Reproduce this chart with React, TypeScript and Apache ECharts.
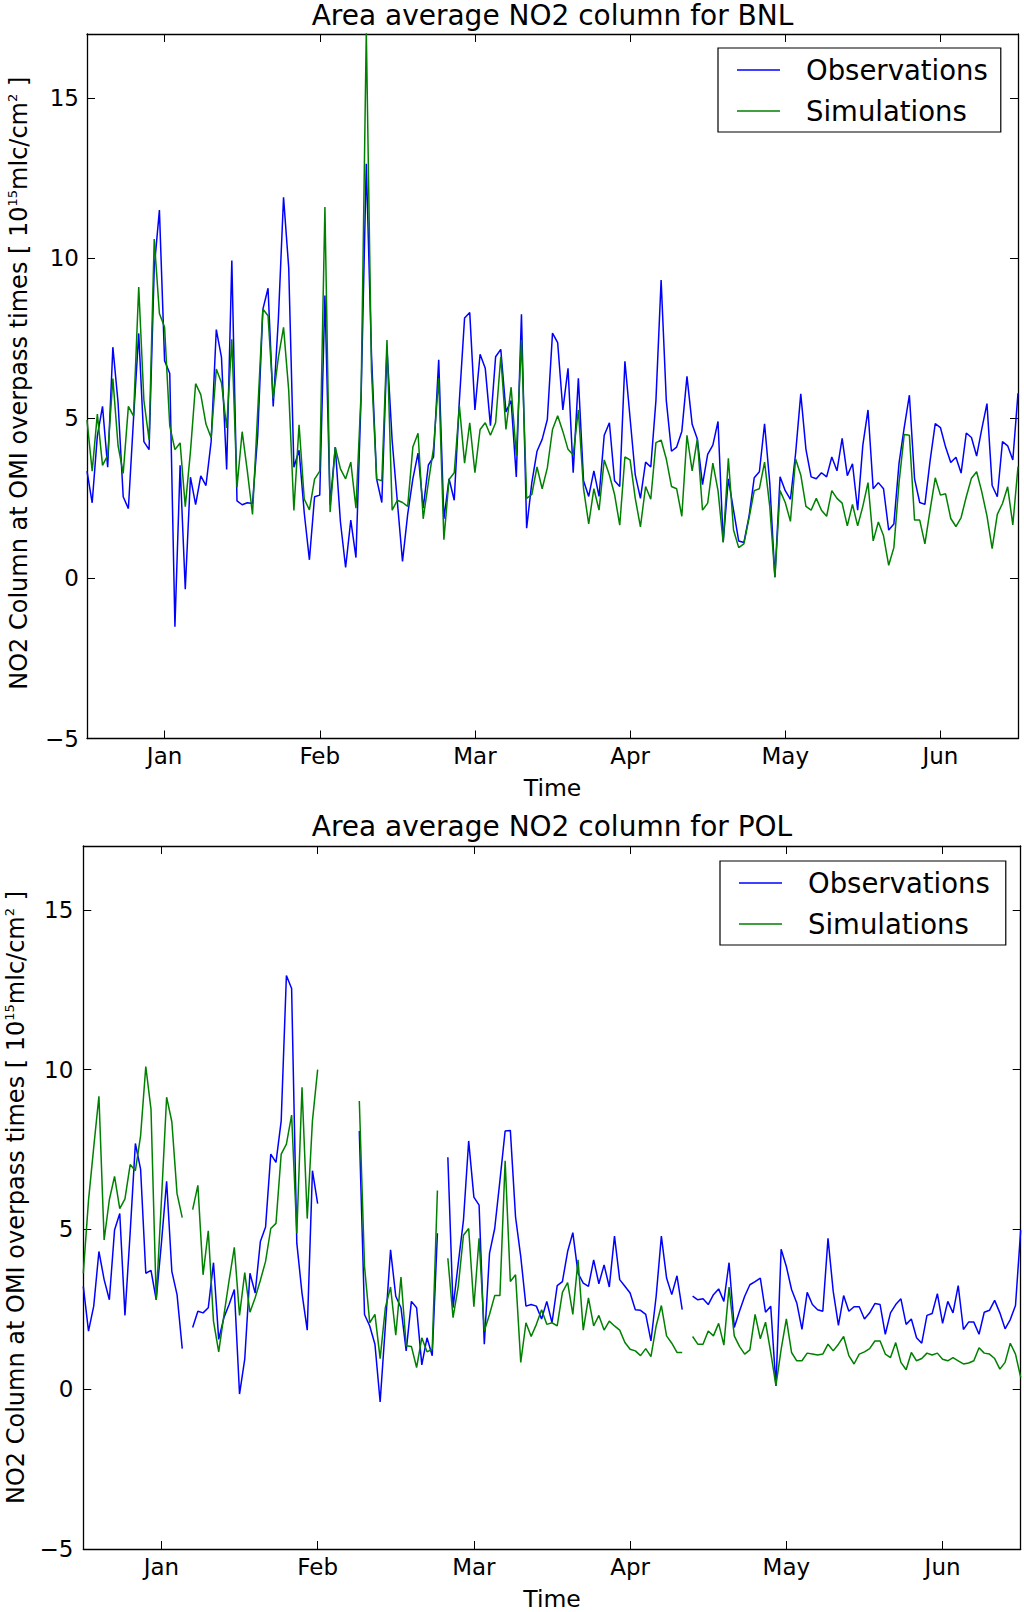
import React, { useEffect, useRef } from "react";
import * as echarts from "echarts";

// x = day offset from 1 January (daily values, mid-December to mid-June)
const START_DAY = -15;
const END_DAY = 165;
const MONTH_TICKS = [0, 30, 60, 90, 120, 150];
const MONTH_LABELS = ["Jan", "Feb", "Mar", "Apr", "May", "Jun"];
const Y_TICKS = [-5, 0, 5, 10, 15];
const Y_MIN = -5;
const Y_MAX = 17;

const SERIES_NAMES = ["Observations", "Simulations"];
const TITLES = ["Area average NO2 column for BNL", "Area average NO2 column for POL"];

// BNL observations (day -15 .. 165)
const bnlObs = [
  3.35, 2.36, 4.45, 5.37, 3.47, 7.22, 5.5, 2.55, 2.18, 5.0,
  7.65, 4.27, 4.02, 9.7, 11.5, 6.8, 6.4, -1.51, 3.53, -0.34,
  3.16, 2.3, 3.2, 2.9, 4.27, 7.77, 6.9, 3.4, 9.93, 2.42,
  2.3, 2.36, 2.34, 4.45, 8.4, 9.06, 5.37, 8.1, 11.9, 9.7,
  3.47, 4.0, 2.05, 0.58, 2.55, 2.6, 8.83, 2.3, 4.1, 1.76,
  0.34, 1.82, 0.65, 5.7, 12.95, 7.0, 3.1, 2.37, 7.17, 4.3,
  2.4, 0.53, 2.0, 3.11, 3.91, 2.19, 3.54, 3.79, 6.83, 1.86,
  3.11, 2.44, 5.57, 8.13, 8.3, 5.26, 7.0, 6.56, 4.77, 6.92,
  7.15, 5.2, 5.55, 3.17, 8.25, 1.57, 2.99, 3.97, 4.34, 4.96,
  7.66, 7.36, 5.26, 6.56, 3.3, 6.25, 3.05, 2.56, 3.36, 2.56,
  4.47, 4.86, 3.05, 2.87, 6.78, 5.0, 3.23, 2.5, 3.63, 3.48,
  5.56, 9.32, 5.56, 3.97, 4.1, 4.59, 6.31, 4.81, 4.35, 2.93,
  3.87, 4.16, 4.9, 1.14, 3.11, 2.13, 1.17, 1.12, 1.94, 3.14,
  3.33, 4.83, 2.99, 0.04, 3.17, 2.74, 2.47, 3.9, 5.76, 4.03,
  3.17, 3.11, 3.3, 3.17, 3.79, 3.36, 4.37, 3.21, 3.58, 2.13,
  4.16, 5.26, 2.8, 2.99, 2.8, 1.51, 1.7, 3.6, 4.71, 5.72,
  3.11, 2.37, 2.31, 3.67, 4.83, 4.71, 4.1, 3.62, 3.78, 3.29,
  4.54, 4.4, 3.82, 4.67, 5.46, 2.9, 2.55, 4.27, 4.14, 3.7,
  5.78,
];

// BNL simulations (day -15 .. 165)
const bnlSim = [
  4.94, 3.35, 5.13, 3.53, 3.84, 6.24, 4.15, 3.28, 5.37, 5.07,
  9.1, 5.56, 4.33, 10.6, 8.27, 7.84, 4.76, 4.02, 4.23, 2.24,
  3.96, 6.08, 5.74, 4.82, 4.39, 6.54, 6.11, 4.7, 7.47, 2.85,
  4.58, 3.35, 2.0, 5.2, 8.41, 8.2, 5.62, 6.9, 7.84, 5.87,
  2.12, 4.8, 2.48, 2.14, 3.1, 3.35, 11.6, 2.07, 4.1, 3.42,
  3.11, 3.63, 2.19, 5.8, 17.1, 6.5, 3.1, 3.05, 7.44, 2.13,
  2.44, 2.37, 2.25, 4.1, 4.53, 1.86, 2.99, 4.07, 6.25, 1.21,
  3.09, 3.3, 5.39, 3.6, 4.86, 3.3, 4.65, 4.86, 4.47, 4.86,
  6.92, 4.65, 5.97, 3.85, 7.44, 2.5, 2.62, 3.48, 2.8, 3.45,
  4.65, 5.08, 4.59, 4.03, 3.85, 5.26, 2.8, 1.7, 2.8, 2.13,
  3.7, 3.23, 2.62, 1.66, 3.79, 3.7, 2.5, 1.61, 2.87, 2.47,
  4.24, 4.32, 3.73, 2.87, 2.8, 1.94, 4.47, 3.36, 4.35, 2.13,
  2.35, 3.6, 2.74, 1.12, 3.75, 1.51, 0.96, 1.08, 1.88, 2.74,
  2.8, 3.63, 2.25, 0.04, 2.74, 2.37, 1.78, 3.73, 3.23, 2.25,
  2.13, 2.5, 2.13, 1.94, 2.74, 2.5, 2.35, 1.64, 2.31, 1.64,
  2.25, 2.99, 1.17, 1.76, 1.33, 0.41, 0.96, 2.99, 4.49, 4.47,
  1.82, 1.82, 1.08, 2.13, 3.14, 2.6, 2.64, 1.87, 1.62, 1.9,
  2.55, 3.13, 3.33, 2.7, 1.95, 0.93, 2.0, 2.34, 2.86, 1.67,
  3.49,
];

// POL observations (day -15 .. 165), null = no data
const polObs = [
  3.22, 1.82, 2.6, 4.31, 3.43, 2.8, 4.98, 5.5, 2.31, 4.9,
  7.69, 6.89, 3.63, 3.72, 2.8, 4.57, 6.51, 3.69, 2.96, 1.27,
  null, 1.93, 2.44, 2.39, 2.55, 3.96, 1.56, 2.24, 2.65, 3.12,
  -0.15, 0.94, 3.63, 3.01, 4.62, 5.08, 7.36, 7.1, 8.4, 12.95,
  12.54, 4.57, 3.0, 1.85, 6.84, 5.81, null, null, null, null,
  null, null, null, 8.08, 2.34, 1.98, 1.41, -0.4, 1.98, 4.36,
  2.91, 2.55, 1.2, 2.75, 2.55, 0.76, 1.61, 1.05, 4.88, null,
  7.26, 2.55, 3.94, 5.29, 7.77, 6.01, 5.76, 1.41, 4.25, 5.03,
  6.53, 8.08, 8.1, 5.39, 4.15, 2.6, 2.65, 2.6, 2.2, 2.75,
  2.08, 3.24, 3.37, 4.31, 4.9, 3.63, 3.32, 3.22, 4.05, 3.3,
  3.89, 3.2, 4.79, 3.43, 3.22, 3.01, 2.49, 2.47, 2.34, 1.51,
  2.91, 4.79, 3.48, 2.96, 3.55, 2.49, null, 2.91, 2.8, 2.83,
  2.65, 2.96, 3.14, 2.75, 3.96, 1.93, 2.44, 2.91, 3.27, 3.37,
  3.48, 2.41, 2.6, 0.1, 4.38, 3.84, 3.12, 2.7, 1.87, 3.03,
  2.65, 2.49, 2.44, 4.72, 3.06, 2.0, 2.93, 2.44, 2.58, 2.58,
  2.2, 2.39, 2.68, 2.65, 1.72, 2.39, 2.65, 2.83, 2.03, 2.2,
  1.61, 1.44, 2.31, 2.37, 2.99, 2.06, 2.75, 2.39, 3.24, 1.87,
  2.1, 2.1, 1.72, 2.41, 2.47, 2.78, 2.39, 1.89, 2.18, 2.62,
  4.98,
];

// POL simulations (day -15 .. 165), null = no data
const polSim = [
  3.63, 5.91, 7.57, 9.17, 4.67, 5.93, 6.66, 5.65, 5.96, 7.03,
  6.84, 7.93, 10.1, 8.76, 2.8, 5.9, 9.14, 8.37, 6.12, 5.37,
  null, 5.62, 6.38, 3.58, 4.96, 2.13, 1.17, 2.31, 3.41, 4.44,
  2.31, 3.65, 2.41, 2.86, 3.41, 4.0, 5.03, 5.19, 7.36, 7.67,
  8.58, 4.88, 9.45, 5.34, 8.4, 10.0, null, null, null, null,
  null, null, null, 9.02, 3.84, 2.08, 2.34, 0.96, 2.55, 3.2,
  1.69, 3.51, 1.36, 1.34, 0.68, 1.61, 1.17, 1.25, 6.22, null,
  4.1, 2.24, 3.22, 4.82, 5.03, 2.58, 4.72, 1.82, 2.34, 2.93,
  2.93, 7.15, 3.37, 3.58, 0.84, 2.08, 1.65, 2.03, 2.49, 2.03,
  2.08, 1.98, 3.03, 3.34, 2.34, 4.05, 1.85, 2.86, 1.98, 2.31,
  1.85, 2.13, 1.98, 1.85, 1.46, 1.25, 1.2, 1.05, 1.27, 1.02,
  1.98, 2.62, 1.67, 1.44, 1.15, 1.15, null, 1.65, 1.41, 1.41,
  1.82, 1.67, 2.06, 1.38, 3.2, 1.67, 1.34, 1.1, 1.23, 2.34,
  1.58, 2.1, 1.15, 0.11, 1.25, 2.2, 1.15, 0.89, 0.89, 1.13,
  1.1, 1.07, 1.1, 1.41, 1.2, 1.41, 1.65, 1.05, 0.79, 1.1,
  1.17, 1.27, 1.51, 1.51, 1.1, 0.99, 1.46, 0.84, 0.61, 1.15,
  0.89, 0.96, 1.13, 1.07, 1.13, 0.94, 0.89, 0.99, 0.89, 0.79,
  0.82, 0.89, 1.3, 1.13, 1.1, 0.96, 0.63, 0.84, 1.44, 1.1,
  0.37,
];

const FONT = "DejaVu Sans";
const BLUE = "#0000ff";
const GREEN = "#008000";

const GRIDS = [
  { left: 87, top: 34, width: 931, height: 704.5 },
  { left: 83.3, top: 846, width: 937.4, height: 709 },
];
const LEGEND_POS = [
  { left: 718, top: 48, padRight: 13 },
  { left: 720, top: 861, padRight: 16 },
];
const Y_LABEL_X = [19, 16];
const Y_LABEL_MARGIN = [8, 10];

function toPairs(arr: (number | null)[]) {
  return arr.map((v, i) => [START_DAY + i, v === null ? null : v]);
}

function yFmt(v: number) {
  return v < 0 ? "\u2212" + Math.abs(v) : String(v);
}

function buildOption() {
  const grid = GRIDS.map((g) => ({ ...g }));
  const axisLine = { show: true, onZero: false, lineStyle: { color: "#000", width: 1.3 } };
  const tickStyle = { color: "#000", width: 1 };
  const xAxis: any[] = [];
  const yAxis: any[] = [];
  GRIDS.forEach((_, gi) => {
    xAxis.push({
      type: "value",
      gridIndex: gi,
      position: "bottom",
      min: START_DAY,
      max: END_DAY,
      axisLine,
      axisTick: { show: true, inside: true, length: 8, customValues: MONTH_TICKS, lineStyle: tickStyle },
      axisLabel: {
        show: true,
        customValues: MONTH_TICKS,
        formatter: (v: number) => {
          const k = MONTH_TICKS.indexOf(v);
          return k >= 0 ? MONTH_LABELS[k] : "";
        },
        color: "#000",
        fontFamily: FONT,
        fontSize: 23,
        margin: 6,
      },
      splitLine: { show: false },
      name: "Time",
      nameLocation: "middle",
      nameGap: gi === 0 ? 37 : 38,
      nameTextStyle: { color: "#000", fontFamily: FONT, fontSize: 23.5 },
    });
    xAxis.push({
      type: "value",
      gridIndex: gi,
      position: "top",
      min: START_DAY,
      max: END_DAY,
      axisLine,
      axisTick: { show: true, inside: true, length: 8, customValues: MONTH_TICKS, lineStyle: tickStyle },
      axisLabel: { show: false },
      splitLine: { show: false },
    });
    yAxis.push({
      type: "value",
      gridIndex: gi,
      position: "left",
      min: Y_MIN,
      max: Y_MAX,
      axisLine,
      axisTick: { show: true, inside: true, length: 8, customValues: Y_TICKS, lineStyle: tickStyle },
      axisLabel: {
        show: true,
        customValues: Y_TICKS,
        formatter: (v: number) => (Y_TICKS.indexOf(v) >= 0 ? yFmt(v) : ""),
        color: "#000",
        fontFamily: FONT,
        fontSize: 23,
        margin: Y_LABEL_MARGIN[gi],
      },
      splitLine: { show: false },
    });
    yAxis.push({
      type: "value",
      gridIndex: gi,
      position: "right",
      min: Y_MIN,
      max: Y_MAX,
      axisLine,
      axisTick: { show: true, inside: true, length: 8, customValues: Y_TICKS, lineStyle: tickStyle },
      axisLabel: { show: false },
      splitLine: { show: false },
    });
  });

  const datasets = [
    [bnlObs, bnlSim],
    [polObs, polSim],
  ];
  const colors = [BLUE, GREEN];
  const series: any[] = [];
  datasets.forEach((pair, gi) => {
    pair.forEach((arr, si) => {
      series.push({
        type: "line",
        name: SERIES_NAMES[si],
        xAxisIndex: gi * 2,
        yAxisIndex: gi * 2,
        data: toPairs(arr),
        symbol: "none",
        showSymbol: false,
        connectNulls: false,
        clip: true,
        lineStyle: { color: colors[si], width: 1.5 },
        itemStyle: { color: colors[si] },
        emphasis: { disabled: true },
        z: 2 + si,
      });
    });
  });

  const legend = LEGEND_POS.map((p) => ({
    data: SERIES_NAMES.map((n, i) => ({ name: n, icon: "rect", itemStyle: { color: colors[i] } })),
    orient: "vertical",
    left: p.left,
    top: p.top,
    backgroundColor: "#fff",
    borderColor: "#000",
    borderWidth: 1.2,
    borderRadius: 0,
    padding: [5, p.padRight, 4, 19],
    itemGap: 7,
    itemWidth: 43,
    itemHeight: 1.6,
    selectedMode: false,
    textStyle: { color: "#000", fontFamily: FONT, fontSize: 27.5, lineHeight: 34, padding: [0, 0, 0, 21] },
  }));

  const yName = "{n|NO2 Column at OMI overpass times [ 10}{s|15}{n|mlc/cm}{s|2}{n| ]}";
  const rich = {
    n: { fontFamily: FONT, fontSize: 24, fill: "#000", color: "#000", lineHeight: 26 },
    s: { fontFamily: FONT, fontSize: 13, fill: "#000", color: "#000", lineHeight: 26, verticalAlign: "top" },
  };
  const graphic: any[] = [];
  GRIDS.forEach((g, gi) => {
    graphic.push({
      type: "text",
      x: g.left + g.width / 2,
      y: gi === 0 ? 15 : 826,
      style: {
        text: TITLES[gi],
        fontFamily: FONT,
        fontSize: 28,
        fill: "#000",
        textAlign: "center",
        textVerticalAlign: "middle",
      },
    });
    graphic.push({
      type: "text",
      x: Y_LABEL_X[gi],
      y: g.top + g.height / 2 - 3,
      rotation: Math.PI / 2,
      style: {
        text: yName,
        rich,
        fill: "#000",
        textAlign: "center",
        textVerticalAlign: "middle",
      },
    });
  });

  return {
    animation: false,
    backgroundColor: "#fff",
    grid,
    xAxis,
    yAxis,
    legend,
    series,
    graphic,
  };
}

export default function App() {
  const ref = useRef<HTMLDivElement>(null);
  useEffect(() => {
    document.body.style.margin = "0";
    if (!ref.current) return;
    const chart = echarts.init(ref.current, undefined, { renderer: "svg" });
    chart.setOption(buildOption() as any);
    return () => chart.dispose();
  }, []);
  return (
    <div
      ref={ref}
      style={{ position: "absolute", left: 0, top: 0, width: 1024, height: 1612, background: "#fff" }}
    />
  );
}
